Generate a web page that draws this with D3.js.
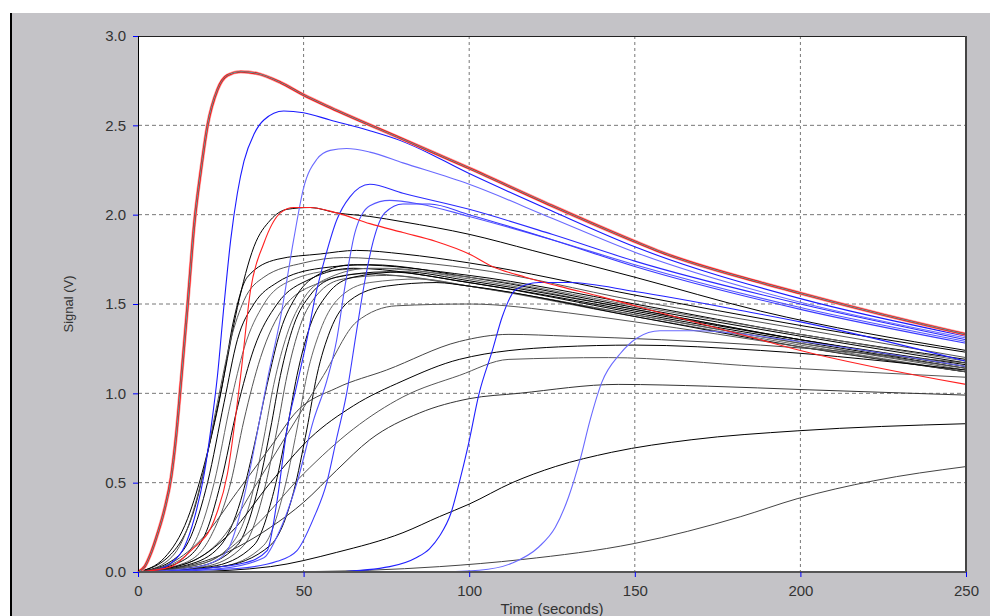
<!DOCTYPE html>
<html>
<head>
<meta charset="utf-8">
<script src="https://cdn.jsdelivr.net/npm/d3@7"></script>
<style>
  body { margin: 0; background: #fff; }
  text { font-family: "Liberation Sans", Arial, sans-serif; }
</style>
</head>
<body>
<div id="chart"></div>
<script>
// tick values
const xTicks = [0, 50, 100, 150, 200, 250];
const yTicks = [0, 0.5, 1.0, 1.5, 2.0, 2.5, 3.0];

// curves as [time (s), signal (V)] pairs
const redCurves = [
  [[0,0],[2,0.03],[4,0.11],[6,0.22],[8,0.35],[10,0.53],[11.5,0.76],[13,1.07],[15,1.5],[17,1.95],[19,2.25],[21,2.5],[24,2.7],[27,2.78],[31,2.8],[36,2.79],[43,2.74],[50,2.67],[58,2.6],[79,2.43],[100,2.26],[125,2.05],[150,1.85],[158,1.79],[188,1.62],[200,1.56],[225,1.44],[250,1.33]],
  [[0,0],[10,0.03],[16,0.12],[23,0.29],[27,0.55],[31,1.1],[34,1.58],[38,1.84],[43,2.01],[47,2.04],[52,2.04],[60,2.01],[70,1.95],[80,1.9],[90,1.85],[100,1.78],[107,1.71],[117,1.65],[127,1.6],[140,1.54],[158,1.45],[186,1.31],[200,1.24],[250,1.05]]
];

const blueCurves = [
  [[0,0],[5,0.01],[10,0.05],[14,0.14],[17,0.3],[20,0.55],[22,0.8],[24,1.1],[26,1.5],[28,1.86],[30,2.12],[32,2.3],[35,2.45],[38,2.53],[44,2.58],[50,2.57],[58,2.53],[70,2.47],[80,2.41],[100,2.23],[125,2.02],[150,1.82],[200,1.53],[250,1.32]],
  [[0,0],[15,0.02],[22,0.05],[27,0.12],[30,0.27],[33,0.5],[36,0.78],[39,1.07],[43,1.42],[47,1.86],[50,2.15],[54,2.31],[58,2.36],[63,2.37],[70,2.35],[80,2.29],[100,2.17],[125,1.98],[150,1.79],[200,1.51],[250,1.31]],
  [[0,0],[20,0.02],[32,0.05],[39,0.12],[42,0.4],[45,0.8],[48,1.05],[51,1.3],[53.5,1.54],[56.5,1.76],[60,1.97],[64,2.1],[70,2.17],[80,2.12],[100,2.03],[125,1.89],[150,1.74],[200,1.5],[250,1.3]],
  [[0,0],[25,0.02],[38,0.08],[42,0.2],[48,0.5],[53,0.85],[57,1.07],[60,1.3],[62.5,1.6],[65.5,1.9],[70,2.05],[76,2.08],[85,2.06],[100,1.99],[125,1.86],[150,1.72],[200,1.48],[250,1.29]],
  [[0,0],[30,0.02],[42,0.06],[48,0.12],[53,0.3],[57,0.5],[60,0.75],[63,1.0],[66,1.35],[68.5,1.63],[71,1.85],[74.5,2.01],[80,2.06],[88,2.06],[100,2.0],[125,1.86],[150,1.71],[200,1.47],[250,1.28]],
  [[60,0],[76,0.03],[84,0.08],[88,0.13],[91,0.2],[94.5,0.33],[97,0.5],[99.6,0.7],[103,1.0],[107,1.24],[110,1.43],[114,1.58],[121,1.62],[130,1.62],[150,1.57],[186,1.45],[200,1.4],[250,1.18]],
  [[90,0],[103,0.01],[113,0.05],[121,0.14],[126,0.25],[130,0.42],[133.5,0.63],[136.5,0.85],[140,1.06],[145.5,1.22],[150.7,1.31],[157.6,1.35],[168,1.35],[200,1.29],[250,1.15]]
];

const blackCurves = [
  [[0,0],[8,0.08],[15,0.3],[20,0.6],[25,1.0],[29,1.42],[33,1.65],[42,1.75],[55,1.78],[66,1.8],[80,1.78],[100,1.73],[150,1.55],[200,1.38],[250,1.23]],
  [[0,0],[10,0.1],[17,0.35],[22,0.75],[26,1.1],[30,1.48],[35,1.82],[40,1.97],[45,2.03],[52,2.04],[60,2.01],[70,1.99],[80,1.96],[100,1.89],[119,1.8],[150,1.65],[188,1.46],[250,1.24]],
  [[0,0],[8,0.05],[14,0.2],[19,0.5],[24,0.95],[28,1.3],[32,1.52],[38,1.65],[50,1.73],[62,1.76],[80,1.74],[100,1.7],[150,1.52],[200,1.36],[250,1.2]],
  [[0,0],[10,0.06],[16,0.2],[21,0.5],[26,0.95],[30,1.3],[35,1.5],[42,1.62],[55,1.7],[70,1.72],[100,1.65],[150,1.48],[200,1.32],[250,1.17]],
  [[0,0],[12,0.06],[18,0.2],[23,0.5],[28,0.95],[32,1.25],[38,1.5],[46,1.63],[60,1.69],[75,1.7],[100,1.64],[150,1.47],[200,1.3],[250,1.15]],
  [[0,0],[12,0.05],[20,0.2],[25,0.5],[30,0.92],[35,1.25],[42,1.5],[52,1.64],[65,1.7],[100,1.62],[150,1.45],[200,1.29],[250,1.14]],
  [[0,0],[14,0.05],[22,0.2],[28,0.5],[32,0.85],[37,1.2],[44,1.48],[55,1.62],[68,1.67],[100,1.6],[150,1.44],[200,1.28],[250,1.13]],
  [[0,0],[15,0.04],[25,0.15],[31,0.4],[35,0.7],[39,1.05],[43,1.35],[48,1.55],[55,1.67],[65,1.72],[100,1.66],[150,1.5],[200,1.33],[250,1.19]],
  [[0,0],[18,0.04],[28,0.15],[34,0.4],[38,0.75],[41,1.05],[45,1.33],[50,1.53],[58,1.65],[70,1.7],[100,1.65],[150,1.49],[200,1.33],[250,1.18]],
  [[0,0],[18,0.03],[30,0.15],[36,0.45],[40,0.8],[43,1.1],[47,1.38],[52,1.55],[60,1.65],[75,1.68],[100,1.62],[150,1.46],[200,1.3],[250,1.16]],
  [[0,0],[20,0.03],[32,0.15],[38,0.45],[42,0.8],[45,1.1],[49,1.38],[54,1.55],[62,1.64],[75,1.66],[100,1.6],[150,1.44],[200,1.28],[250,1.14]],
  [[0,0],[22,0.03],[35,0.15],[41,0.45],[45,0.8],[48,1.1],[52,1.38],[57,1.55],[65,1.65],[80,1.68],[100,1.63],[150,1.47],[200,1.3],[250,1.15]],
  [[0,0],[25,0.03],[38,0.15],[44,0.45],[48,0.8],[51,1.1],[55,1.35],[60,1.52],[70,1.62],[85,1.64],[100,1.6],[150,1.43],[200,1.27],[250,1.12]],
  [[0,0],[25,0.03],[40,0.15],[47,0.45],[51,0.8],[54,1.1],[58,1.35],[64,1.52],[75,1.6],[90,1.62],[100,1.6],[150,1.43],[200,1.26],[250,1.12]],
  [[0,0],[15,0.05],[25,0.18],[36,0.5],[46,0.8],[56,1.1],[66,1.4],[78,1.49],[100,1.5],[130,1.45],[150,1.4],[200,1.26],[250,1.12]],
  [[0,0],[10,0.05],[20,0.2],[30,0.45],[40,0.7],[48,0.9],[60,1.03],[75,1.13],[97,1.29],[112,1.33],[130,1.32],[158,1.3],[188,1.27],[250,1.17]],
  [[0,0],[15,0.05],[28,0.22],[40,0.5],[52,0.75],[65,0.93],[80,1.07],[97,1.19],[127,1.26],[150,1.27],[188,1.24],[250,1.13]],
  [[0,0],[20,0.05],[35,0.25],[50,0.55],[65,0.8],[80,0.98],[97,1.1],[112,1.19],[142,1.2],[188,1.15],[250,1.09]],
  [[0,0],[20,0.06],[40,0.25],[50,0.39],[60,0.57],[70,0.74],[85,0.89],[100,0.97],[115,1.0],[145,1.05],[172,1.04],[202,1.02],[250,0.99]],
  [[15,0],[40,0.03],[60,0.11],[80,0.22],[91,0.31],[100,0.38],[113,0.5],[126,0.59],[143,0.67],[167,0.74],[199,0.79],[250,0.83]],
  [[40,0],[70,0.01],[91,0.03],[116,0.07],[150,0.16],[182,0.31],[199,0.41],[222,0.51],[250,0.59]]
];

const blackShades = ["#000", "#000", "#555", "#000", "#666", "#000", "#555", "#000", "#666", "#000", "#555", "#000", "#666", "#000", "#555", "#444", "#000", "#555", "#333", "#000", "#444"];
const blueShades = ["#1a1aff", "#6a6aff", "#2a2aff", "#5555ff", "#3a3aff", "#2020ff", "#6a6aff"];

const W = 990, H = 616;
const margin = { top: 36, right: 24, bottom: 44, left: 138 };
const width = W - margin.left - margin.right;
const height = H - margin.top - margin.bottom;

const svg = d3.select("#chart").append("svg")
  .attr("width", W)
  .attr("height", H);

// grey panel with black left edge
svg.append("rect").attr("x", 12).attr("y", 13).attr("width", W - 12).attr("height", H - 13).attr("fill", "#c4c3c7");
svg.append("rect").attr("x", 10).attr("y", 13).attr("width", 2).attr("height", H - 13).attr("fill", "#000");

const g = svg.append("g").attr("transform", `translate(${margin.left},${margin.top})`);

const x = d3.scaleLinear().domain([0, 250]).range([0, width]);
const y = d3.scaleLinear().domain([0, 3]).range([height, 0]);

g.append("rect").attr("width", width).attr("height", height).attr("fill", "#fff");

// dashed grid
g.append("g").selectAll("line")
  .data(xTicks.slice(1, -1)).enter().append("line")
  .attr("x1", d => x(d)).attr("x2", d => x(d))
  .attr("y1", 0).attr("y2", height)
  .attr("stroke", "#777").attr("stroke-dasharray", "3,3");
g.append("g").selectAll("line")
  .data(yTicks.slice(1, -1)).enter().append("line")
  .attr("y1", d => y(d)).attr("y2", d => y(d))
  .attr("x1", 0).attr("x2", width)
  .attr("stroke", "#777").attr("stroke-dasharray", "4,3");

const line = d3.line()
  .x(d => x(d[0]))
  .y(d => y(d[1]))
  .curve(d3.curveMonotoneX);

const curves = g.append("g").attr("fill", "none");

curves.selectAll(".blk")
  .data(blackCurves).enter().append("path")
  .attr("class", "blk")
  .attr("d", line)
  .attr("stroke", (d, i) => blackShades[i % blackShades.length])
  .attr("stroke-width", 1);

curves.selectAll(".blu")
  .data(blueCurves).enter().append("path")
  .attr("class", "blu")
  .attr("d", line)
  .attr("stroke", (d, i) => blueShades[i])
  .attr("stroke-width", 1.1);

// second red (thin)
curves.append("path").datum(redCurves[1])
  .attr("d", line).attr("stroke", "#ff2020").attr("stroke-width", 1.1);

// top red with its halo and cyan core
curves.append("path").datum(redCurves[0])
  .attr("d", line).attr("stroke", "#ff9a9a").attr("stroke-width", 3.6);
curves.append("path").datum(redCurves[0])
  .attr("d", line).attr("stroke", "#ff0000").attr("stroke-width", 2.2);
curves.append("path").datum(redCurves[0])
  .attr("d", line).attr("stroke", "#30c8c8").attr("stroke-width", 0.8);

// plot frame
g.append("line").attr("x1", 0).attr("x2", width).attr("y1", 0.5).attr("y2", 0.5).attr("stroke", "#222");
g.append("line").attr("x1", 0.5).attr("x2", 0.5).attr("y1", 0).attr("y2", height).attr("stroke", "#000");
g.append("line").attr("x1", width).attr("x2", width).attr("y1", 0).attr("y2", height + 1).attr("stroke", "#444").attr("stroke-width", 2);
g.append("line").attr("x1", 0).attr("x2", width).attr("y1", height).attr("y2", height).attr("stroke", "#555").attr("stroke-width", 2);

// axes
const yAxis = g.append("g")
  .call(d3.axisLeft(y).tickValues(yTicks).tickFormat(d3.format(".1f")).tickSize(5).tickPadding(7));
const xAxis = g.append("g")
  .attr("transform", `translate(0,${height})`)
  .call(d3.axisBottom(x).tickValues(xTicks).tickSize(5).tickPadding(8));

[yAxis, xAxis].forEach(a => {
  a.select(".domain").remove();
  a.selectAll(".tick line").attr("stroke", "#0000ff");
  a.selectAll(".tick text")
    .attr("fill", "#333")
    .style("font-size", "15px")
    .style("font-family", "'Liberation Sans', Arial, sans-serif");
});

// axis titles
g.append("text")
  .attr("x", width / 2)
  .attr("y", height + 42)
  .attr("text-anchor", "middle")
  .attr("fill", "#333")
  .style("font-size", "15px")
  .text("Time (seconds)");

g.append("text")
  .attr("transform", `translate(${68 - margin.left},${height / 2}) rotate(-90)`)
  .attr("text-anchor", "middle")
  .attr("dy", "0.35em")
  .attr("fill", "#333")
  .style("font-size", "13px")
  .text("Signal (V)");
</script>
</body>
</html>
